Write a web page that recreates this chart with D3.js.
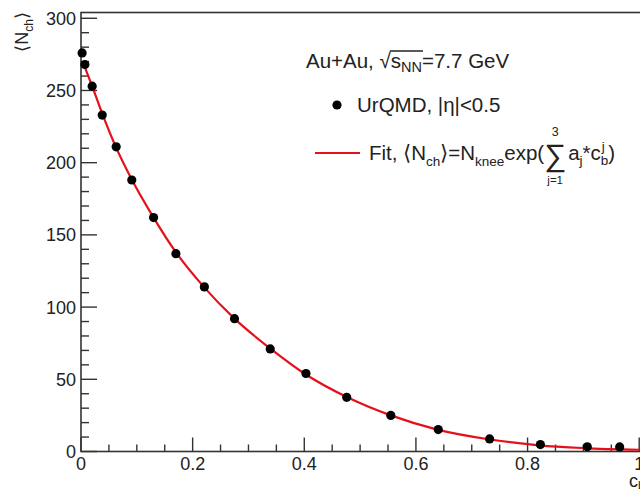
<!DOCTYPE html>
<html><head><meta charset="utf-8">
<script src="https://cdn.jsdelivr.net/npm/d3@7"></script>
<style>
body{margin:0;background:#fff;}
svg{display:block;font-family:"Liberation Sans",Arial,Helvetica,sans-serif;}
</style></head>
<body>
<script>
// Data
const cb = [0.002,0.007,0.020,0.038,0.063,0.091,0.130,0.170,0.221,0.275,0.339,0.403,0.476,0.555,0.640,0.732,0.823,0.907,0.965];
const nch = [276,268,253,233,211,188,162,137,114,92,71,54,37.5,25,15.2,8.7,4.8,3.3,3.2];
const fitX = [0.003,0.02,0.04,0.06,0.09,0.13,0.17,0.22,0.275,0.34,0.40,0.48,0.555,0.64,0.73,0.82,0.90,1.0];
const fitY = [270,253,232,213,189,162,138,114,92,71,54,37,25,15,8.5,4.3,2.4,1.2];
const xTicks = [0,0.2,0.4,0.6,0.8,1];
const xTickLabels = ["0","0.2","0.4","0.6","0.8","1"];
const yTicks = [0,50,100,150,200,250,300];
const yTickLabels = ["0","50","100","150","200","250","300"];

const W=640,H=489;
const svg=d3.select("body").append("svg").attr("width",W).attr("height",H);
const x=d3.scaleLinear().domain([0,1.005]).range([81,642]);
const y=d3.scaleLinear().domain([0,304]).range([451.5,12.5]);
const axisCol="#333";

// frame
svg.append("rect").attr("x",x(0)).attr("y",y(304)).attr("width",x(1.005)-x(0)).attr("height",y(0)-y(304))
  .attr("fill","none").attr("stroke",axisCol).attr("stroke-width",1.6);

// x ticks (inward)
const xMinor=d3.range(0,1.0001,0.05);
svg.append("g").selectAll("line").data(xMinor).join("line")
  .attr("x1",d=>x(d)).attr("x2",d=>x(d)).attr("y1",y(0))
  .attr("y2",(d,i)=> i%4===0? y(0)-14 : y(0)-7)
  .attr("stroke",axisCol).attr("stroke-width",1.4);
svg.append("g").selectAll("text").data(xTicks).join("text")
  .attr("x",d=>x(d)).attr("y",470).attr("text-anchor","middle")
  .attr("font-size",18).attr("fill","#222").text((d,i)=>xTickLabels[i]);

// y ticks
const yMinor=d3.range(0,301,10);
svg.append("g").selectAll("line").data(yMinor).join("line")
  .attr("y1",d=>y(d)).attr("y2",d=>y(d)).attr("x1",x(0))
  .attr("x2",(d,i)=> i%5===0? x(0)+16 : x(0)+8)
  .attr("stroke",axisCol).attr("stroke-width",1.4);
svg.append("g").selectAll("text").data(yTicks).join("text")
  .attr("x",76).attr("y",d=>y(d)+6.5).attr("text-anchor","end")
  .attr("font-size",18).attr("fill","#222").text((d,i)=>yTickLabels[i]);

// axis titles
const yt=svg.append("text").attr("transform","translate(28,12) rotate(-90)")
  .attr("text-anchor","end").attr("font-size",18).attr("fill","#222");
yt.append("tspan").text("⟨N");
yt.append("tspan").attr("font-size",12).attr("dy",5).text("ch");
yt.append("tspan").attr("dy",-5).text("⟩");

const xt=svg.append("text").attr("x",629).attr("y",487).attr("font-size",18).attr("fill","#222");
xt.append("tspan").text("c");
xt.append("tspan").attr("font-size",12).attr("dy",3).text("b");

// fit curve
const line=d3.line().x((d,i)=>x(fitX[i])).y((d,i)=>y(fitY[i])).curve(d3.curveMonotoneX);
svg.append("path").attr("d",line(fitX)).attr("fill","none").attr("stroke","#e5101a").attr("stroke-width",2.2);

// points
svg.append("g").selectAll("circle").data(cb).join("circle")
  .attr("cx",d=>x(d)).attr("cy",(d,i)=>y(nch[i])).attr("r",4.6).attr("fill","#000");

// legend
const LF=20.5;
const t1=svg.append("text").attr("x",306).attr("y",68).attr("font-size",LF).attr("fill","#222");
t1.append("tspan").text("Au+Au, ");
t1.append("tspan").text("√");
t1.append("tspan").text("s");
t1.append("tspan").attr("font-size",14.5).attr("dy",4).text("NN");
t1.append("tspan").attr("dy",-4).text("=7.7 GeV");
{
  const n=t1.node();
  const s0=n.getStartPositionOfChar(8).x;
  const e0=n.getEndPositionOfChar(10).x;
  svg.append("line").attr("x1",s0-1).attr("x2",e0+1).attr("y1",51).attr("y2",51)
    .attr("stroke","#222").attr("stroke-width",1.3);
}

svg.append("circle").attr("cx",337).attr("cy",105).attr("r",4.6).attr("fill","#000");
svg.append("text").attr("x",357).attr("y",112).attr("font-size",LF).attr("fill","#222").text("UrQMD, |η|<0.5");

svg.append("line").attr("x1",315).attr("x2",360).attr("y1",153).attr("y2",153).attr("stroke","#e5101a").attr("stroke-width",2.2);
const t3=svg.append("text").attr("x",369).attr("y",160).attr("font-size",LF).attr("fill","#222");
t3.append("tspan").text("Fit, ⟨N");
t3.append("tspan").attr("font-size",13.5).attr("dy",6).text("ch");
t3.append("tspan").attr("dy",-6).text("⟩=N");
t3.append("tspan").attr("font-size",13.5).attr("dy",6).text("knee");
t3.append("tspan").attr("dy",-6).text("exp(");
const w3=t3.node().getComputedTextLength();
const sx=369+w3;
svg.append("text").attr("x",sx).attr("y",166).attr("font-size",31).attr("fill","#222").text("∑");
svg.append("text").attr("x",sx+11).attr("y",136).attr("font-size",12.5).attr("text-anchor","middle").attr("fill","#222").text("3");
svg.append("text").attr("x",sx+11).attr("y",184).attr("font-size",11.5).attr("text-anchor","middle").attr("fill","#222").text("j=1");
const t4=svg.append("text").attr("x",sx+24).attr("y",160).attr("font-size",LF).attr("fill","#222");
t4.append("tspan").text("a");
t4.append("tspan").attr("font-size",13.5).attr("dy",5).text("j");
t4.append("tspan").attr("dy",-5).text("*c");
const bT=t4.append("tspan").attr("font-size",13.5).attr("dy",5).text("b");
const bw=bT.node().getComputedTextLength();
const jT=t4.append("tspan").attr("font-size",13.5).attr("dy",-14).attr("dx",-bw+1).text("j");
const jw=jT.node().getComputedTextLength();
t4.append("tspan").attr("dy",9).attr("dx",Math.max(0,bw-1-jw)).text(")");
</script>
</body></html>
